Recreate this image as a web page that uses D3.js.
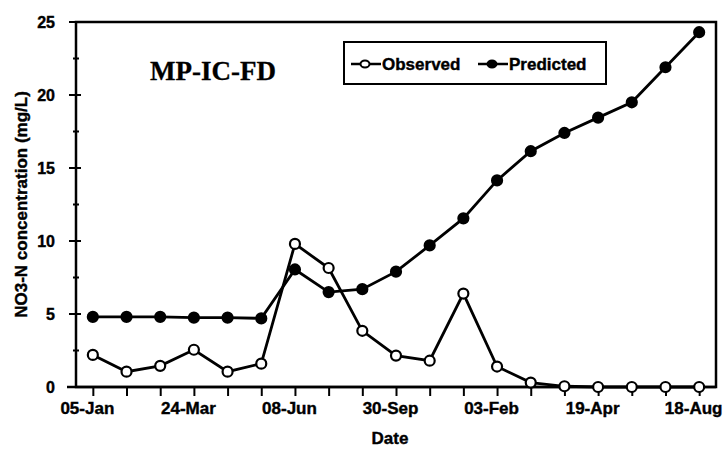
<!DOCTYPE html>
<html>
<head>
<meta charset="utf-8">
<script src="https://cdn.jsdelivr.net/npm/d3@7"></script>
<style>
  body { margin: 0; background: #fff; }
  text { font-family: "Liberation Sans", Arial, sans-serif; font-weight: bold; fill: #000; stroke: #000; stroke-width: 0.4px; }
</style>
</head>
<body>
<div id="chart-area"></div>
<script>
// Datos
const tickLabels = ["05-Jan", "24-Mar", "08-Jun", "30-Sep", "03-Feb", "19-Apr", "18-Aug"];
const observed = [2.2, 1.05, 1.45, 2.55, 1.05, 1.6, 9.8, 8.15, 3.85, 2.15, 1.8, 6.4, 1.4, 0.3, 0.05, 0, 0, 0, 0];
const predicted = [4.8, 4.8, 4.8, 4.75, 4.75, 4.7, 8.05, 6.5, 6.7, 7.9, 9.7, 11.55, 14.15, 16.15, 17.4, 18.45, 19.5, 21.9, 24.3];
const yTicks = [0, 5, 10, 15, 20, 25];

// Lienzo y márgenes
const margin = { top: 22, right: 7, bottom: 64, left: 76 };
const width = 723 - margin.left - margin.right;
const height = 451 - margin.top - margin.bottom;

const svg = d3.select("#chart-area")
    .append("svg")
    .attr("width", 723)
    .attr("height", 451);

const g = svg.append("g")
    .attr("transform", `translate(${margin.left}, ${margin.top})`);

// Escalas
const x = d3.scalePoint()
    .domain(d3.range(observed.length))
    .range([0, width])
    .padding(0.5);
const y = d3.scaleLinear().domain([0, 25]).range([height, 0]);

// Marco del área de trazado
g.append("rect")
    .attr("width", width)
    .attr("height", height)
    .attr("fill", "none")
    .attr("stroke", "#000")
    .attr("stroke-width", 2.5);

// Eje Y con marcas cruzadas
const yAxis = g.append("g");
yAxis.selectAll(".major")
    .data(yTicks)
    .enter().append("line")
    .attr("x1", -7).attr("x2", 5)
    .attr("y1", d => y(d)).attr("y2", d => y(d))
    .attr("stroke", "#000").attr("stroke-width", 2);
yAxis.selectAll(".minor")
    .data(yTicks.slice(1).map(d => d - 2.5))
    .enter().append("line")
    .attr("x1", -3).attr("x2", 3)
    .attr("y1", d => y(d)).attr("y2", d => y(d))
    .attr("stroke", "#000").attr("stroke-width", 2);
yAxis.selectAll("text")
    .data(yTicks)
    .enter().append("text")
    .attr("x", -21)
    .attr("y", d => y(d))
    .attr("dy", "0.36em")
    .attr("text-anchor", "end")
    .style("font-size", "16px")
    .text(d => d);

// Eje X
const xAxisCall = d3.axisBottom(x)
    .tickSize(9)
    .tickPadding(6)
    .tickFormat(i => i % 3 === 0 ? tickLabels[i / 3] : "");
const xAxis = g.append("g")
    .attr("transform", `translate(0, ${height})`)
    .call(xAxisCall);
xAxis.select(".domain").remove();
xAxis.selectAll(".tick line").attr("stroke", "#000").attr("stroke-width", 2);
xAxis.selectAll(".tick text")
    .attr("dx", -6)
    .style("font-size", "17px")
    .style("font-family", "Liberation Sans, Arial, sans-serif")
    .style("font-weight", "bold")
    .attr("fill", "#000");
g.append("line")
    .attr("x1", -9).attr("x2", width)
    .attr("y1", height).attr("y2", height)
    .attr("stroke", "#000").attr("stroke-width", 2.5);

// Títulos de ejes
g.append("text")
    .attr("x", width / 2 - 6)
    .attr("y", height + 57)
    .attr("text-anchor", "middle")
    .style("font-size", "17px")
    .text("Date");

g.append("text")
    .attr("transform", "rotate(-90)")
    .attr("x", -height / 2)
    .attr("y", -margin.left + 27)
    .attr("text-anchor", "middle")
    .style("font-size", "17px")
    .text("NO3-N concentration (mg/L)");

// Título del gráfico
g.append("text")
    .attr("x", 137)
    .attr("y", 58)
    .attr("text-anchor", "middle")
    .style("font-family", "Liberation Serif, Times New Roman, serif")
    .style("font-size", "27px")
    .style("stroke-width", "0.3px")
    .text("MP-IC-FD");

// Líneas
const line = d3.line()
    .x((d, i) => x(i))
    .y(d => y(d));

const series = [
    { name: "Observed", values: observed, fill: "#fff" },
    { name: "Predicted", values: predicted, fill: "#000" }
];

series.forEach(s => {
    g.append("path")
        .datum(s.values)
        .attr("d", line)
        .attr("fill", "none")
        .attr("stroke", "#000")
        .attr("stroke-width", 2.8);
});

series.forEach(s => {
    g.selectAll(".pt-" + s.name)
        .data(s.values)
        .enter().append("circle")
        .attr("class", "pt-" + s.name)
        .attr("cx", (d, i) => x(i))
        .attr("cy", d => y(d))
        .attr("r", 5)
        .attr("fill", s.fill)
        .attr("stroke", "#000")
        .attr("stroke-width", 2.2);
});

// Leyenda
const legend = g.append("g")
    .attr("transform", "translate(268, 20)");

legend.append("rect")
    .attr("width", 262)
    .attr("height", 42)
    .attr("fill", "#fff")
    .attr("stroke", "#000")
    .attr("stroke-width", 2);

const legendItems = legend.selectAll(".legendGroup")
    .data(series)
    .enter().append("g")
    .attr("class", "legendGroup")
    .attr("transform", (d, i) => `translate(${7 + i * 127}, 22)`);

legendItems.append("line")
    .attr("x1", 0).attr("x2", 30)
    .attr("stroke", "#000").attr("stroke-width", 2.5);

legendItems.append("ellipse")
    .attr("cx", 14)
    .attr("rx", 4.5).attr("ry", 3.5)
    .attr("fill", d => d.fill)
    .attr("stroke", "#000")
    .attr("stroke-width", 2);

legendItems.append("text")
    .attr("x", 31)
    .attr("y", 6)
    .style("font-size", "17px")
    .text(d => d.name);
</script>
</body>
</html>
